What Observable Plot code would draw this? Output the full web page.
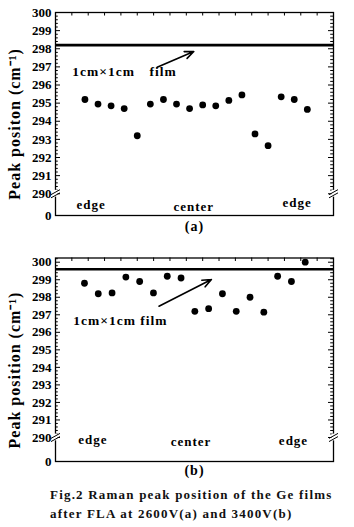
<!DOCTYPE html>
<html><head><meta charset="utf-8">
<script src="https://cdn.jsdelivr.net/npm/d3@7"></script>
<script src="https://cdn.jsdelivr.net/npm/@observablehq/plot@0.6"></script>
<style>
body{margin:0;background:#fff;font-family:"Liberation Serif","Times New Roman",serif;}
#caption{font-weight:bold;font-size:13px;letter-spacing:1.2px;line-height:19px;padding-left:50px;color:#111;white-space:nowrap}
</style></head><body>
<div id="a"></div><div id="b"></div>
<div id="caption">Fig.2 Raman peak position of the Ge films<br>after FLA at 2600V(a) and 3400V(b)</div>
<script>
// ---- data ----
const peakA = [295.2, 294.95, 294.85, 294.7, 293.2, 294.95, 295.2, 294.95, 294.7, 294.9, 294.85, 295.15, 295.45, 293.3, 292.65, 295.35, 295.2, 294.65];
const peakB = [298.8, 298.2, 298.25, 299.15, 298.9, 298.25, 299.2, 299.1, 297.2, 297.35, 298.2, 297.2, 298.0, 297.15, 299.2, 298.9, 300.0];
const refA = 298.2;
const refB = 299.6;
const yTickValues = [290, 291, 292, 293, 294, 295, 296, 297, 298, 299, 300];
const breakTickLabel = "0";
const titleA = "Peak positon (cm\u207B\u00B9)";
const titleB = "Peak position (cm\u207B\u00B9)";
const regionNames = ["edge", "center", "edge"];
const regionXA = [0.36, 7.77, 16.1];
const regionYA = [289.41, 289.3, 289.52];
const regionXB = [0.55, 7.25, 15.09];
const regionYB = [289.87, 289.77, 289.83];
const filmTextA = ["1cm\u00D71cm", "film"];
const filmXA = [0.03, 5.94];
const filmYA = [296.75, 296.75];
const filmTextB = ["1cm\u00D71cm film"];
const filmXB = [0.19];
const filmYB = [296.68];
const arrowA = {x1: 6.52, y1: 296.98, x2: 9.32, y2: 297.85};
const arrowB = {x1: 6.40, y1: 297.49, x2: 10.20, y2: 299.01};

function panel(o) {
  const W = 354, mL = 55, mR = 21;
  const [x0, x1] = o.xDomain, [y0, y1] = o.yDomain;
  const ux = (x1 - x0) / (W - mL - mR);
  const uy = (y1 - y0) / (o.height - o.marginTop - o.marginBottom);
  const pts = o.values.map((v, i) => ({i: i + 1, v}));
  const major = yTickValues;
  const minor = d3.range(290, y1 + 1e-9, 0.2).filter(v => Math.abs(v - Math.round(v)) > 1e-6);
  const topTicks = d3.range(1, 17).map(k => x0 + k * (x1 - x0) / 17);
  const axisTicks = [y0, ...yTickValues];
  const regions = regionNames.map((t, k) => ({t, x: o.regionX[k], y: o.regionY[k]}));
  const films = o.filmText.map((t, k) => ({t, x: o.filmX[k], y: o.filmY[k]}));
  const brk = [];
  for (const xe of [x0, x1]) {
    for (const s of [-1.6, 1.6]) {
      brk.push({x1: xe - 4.5 * ux, y1: 290 + (s - 2.5) * uy, x2: xe + 4.5 * ux, y2: 290 + (s + 2.5) * uy});
    }
  }
  return Plot.plot({
    width: W, height: o.height,
    marginLeft: mL, marginRight: mR, marginTop: o.marginTop, marginBottom: o.marginBottom,
    style: {fontFamily: "'Liberation Serif','Times New Roman',serif", fontWeight: "bold", color: "#000", background: "#fff"},
    x: {domain: o.xDomain, axis: null},
    y: {domain: o.yDomain, axis: null},
    marks: [
      Plot.ruleY(major, {y: d => d, x1: x0, x2: x0 + 5 * ux, stroke: "#000"}),
      Plot.ruleY(major, {y: d => d, x1: x1, x2: x1 - 5 * ux, stroke: "#000"}),
      Plot.ruleY(minor, {y: d => d, x1: x0, x2: x0 + 2.8 * ux, stroke: "#000"}),
      Plot.ruleY(minor, {y: d => d, x1: x1, x2: x1 - 2.8 * ux, stroke: "#000"}),
      Plot.ruleX(topTicks, {x: d => d, y1: y1, y2: y1 - 3.5 * uy, stroke: "#000"}),
      Plot.frame({stroke: "#000", strokeWidth: 1.3}),
      Plot.ruleX([x0, x1], {x: d => d, y1: 290 - 3.4 * uy, y2: 290 + 3.4 * uy, stroke: "#fff", strokeWidth: 4}),
      Plot.link(brk, {x1: "x1", y1: "y1", x2: "x2", y2: "y2", stroke: "#000", strokeWidth: 1}),
      Plot.axisY(axisTicks, {anchor: "left", tickSize: 0, tickPadding: 4, fontSize: 13, fontWeight: "bold",
        tickFormat: d => d === y0 ? breakTickLabel : String(d), label: null}),
      Plot.ruleY([o.ref], {stroke: "#000", strokeWidth: 2.6}),
      Plot.dot(pts, {x: "i", y: "v", r: 3.4, fill: "#000", stroke: "none"}),
      Plot.arrow([o.arrow], {x1: "x1", y1: "y1", x2: "x2", y2: "y2", stroke: "#000", strokeWidth: 1.6, headLength: 9, headAngle: 45}),
      Plot.text(films, {x: "x", y: "y", text: "t", textAnchor: "start", fontSize: 13.5, fontWeight: "bold"}),
      Plot.text(regions, {x: "x", y: "y", text: "t", textAnchor: "start", fontSize: 13, fontWeight: "bold"}),
      Plot.text([o.title], {text: d => d, frameAnchor: "left", textAnchor: "middle", y: 293.85, dx: -41, rotate: -90, fontSize: 16, fontWeight: "bold"}),
      Plot.text([o.tag], {text: d => d, frameAnchor: "bottom", textAnchor: "middle", dy: o.tagDy, fontSize: 14, fontWeight: "bold"})
    ]
  });
}

const svgA = panel({values: peakA, ref: refA, xDomain: [-1.25, 20], yDomain: [288.8, 300],
  height: 240, marginTop: 12, marginBottom: 25, title: titleA, tag: "(a)", tagDy: 15,
  regionX: regionXA, regionY: regionYA, filmText: filmTextA, filmX: filmXA, filmY: filmYA, arrow: arrowA});
const svgB = panel({values: peakB, ref: refB, xDomain: [-1.1, 19.05], yDomain: [288.63, 300.24],
  height: 245, marginTop: 17.5, marginBottom: 24, title: titleB, tag: "(b)", tagDy: 13,
  regionX: regionXB, regionY: regionYB, filmText: filmTextB, filmX: filmXB, filmY: filmYB, arrow: arrowB});
document.getElementById("a").append(svgA);
document.getElementById("b").append(svgB);
document.querySelectorAll("svg text").forEach(t => {
  const s = t.textContent;
  if (/edge|center|\(a\)|\(b\)|1cm|film|Peak/.test(s)) t.style.letterSpacing = "1px";
});
</script>
</body></html>
